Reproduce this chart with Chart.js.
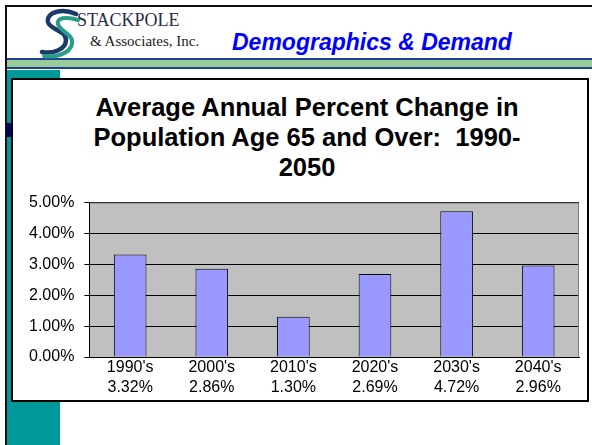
<!DOCTYPE html>
<html>
<head>
<meta charset="utf-8">
<script src="https://cdn.jsdelivr.net/npm/chart.js@4/dist/chart.umd.min.js"></script>
<style>
    body { margin: 0; width: 592px; height: 445px; background: #fff; position: relative; overflow: hidden; font-family: "Liberation Sans", Arial, sans-serif; }
    .abs { position: absolute; }
    #chartBox { left: 11px; top: 78px; width: 574px; height: 320px; border: 2px solid #000; background: #fff; }
    #chartTitle { left: 57px; top: 92px; width: 500px; text-align: center; font-size: 25.5px; font-weight: bold; line-height: 30px; color: #000; white-space: pre; }
    #chartWrap { left: 19px; top: 183px; width: 571px; height: 216px; }
</style>
</head>
<body>
<script>
// dados do gráfico
const categories = ["1990's", "2000's", "2010's", "2020's", "2030's", "2040's"];
const changeValues = [3.32, 2.86, 1.30, 2.69, 4.72, 2.96];
const yTicks = [0, 1, 2, 3, 4, 5];
const chartTitle = ['Average Annual Percent Change in', 'Population Age 65 and Over:  1990-', '2050'];
</script>

<!-- moldura do slide -->
<div class="abs" style="left:5px;top:5px;width:587px;height:2px;background:#111;"></div>
<div class="abs" style="left:5px;top:5px;width:2px;height:440px;background:#111;"></div>
<div class="abs" style="left:7px;top:58px;width:585px;height:2px;background:#1f3f99;"></div>
<div class="abs" style="left:7px;top:60px;width:585px;height:7px;background:#99cc99;"></div>
<div class="abs" style="left:7px;top:67px;width:585px;height:2px;background:#1f3f99;"></div>
<div class="abs" style="left:7px;top:70px;width:53px;height:375px;background:#009999;"></div>
<div class="abs" style="left:7px;top:123px;width:4px;height:14px;background:#000066;"></div>

<!-- logotipo -->
<svg class="abs" style="left:36px;top:8px;" width="46" height="52" viewBox="0 0 46 52">
    <path d="M40 6 C26 0 10 4 12 14 C14 22 30 22 30 32 C30 42 16 46 6 44" fill="none" stroke="#1a3a6a" stroke-width="4.5" stroke-linecap="round"/>
    <path d="M42 12 C30 8 20 10 22 16 C24 24 38 26 36 36 C34 46 18 50 8 48" fill="none" stroke="#2a9a8a" stroke-width="4" stroke-linecap="round"/>
</svg>
<div class="abs" style="left:77px;top:10px;font-family:'Liberation Serif',serif;font-size:18px;color:#2b2b48;line-height:20px;">STACKPOLE</div>
<div class="abs" style="left:90px;top:33px;font-family:'Liberation Serif',serif;font-size:15px;color:#222;line-height:17px;">&amp; Associates, Inc.</div>
<div class="abs" style="left:232px;top:29px;font-size:23px;font-weight:bold;font-style:italic;color:#0000ff;line-height:26px;">Demographics &amp; Demand</div>

<div id="chartBox" class="abs"></div>
<div id="chartTitle" class="abs"></div>
<div id="chartWrap" class="abs"><canvas id="popChart"></canvas></div>

<script>
document.getElementById('chartTitle').textContent = chartTitle.join('\n');

// fundo cinza e borda da área de plotagem
const plotArea = {
    id: 'plotArea',
    beforeDraw(chart) {
        const { ctx, chartArea: a } = chart;
        ctx.save();
        ctx.fillStyle = '#c0c0c0';
        ctx.fillRect(a.left, a.top, a.right - a.left, a.bottom - a.top);
        ctx.restore();
    },
    afterDraw(chart) {
        const { ctx, chartArea: a } = chart;
        ctx.save();
        ctx.strokeStyle = '#808080';
        ctx.lineWidth = 1;
        ctx.beginPath();
        ctx.moveTo(a.left + 1, a.top + 0.5);
        ctx.lineTo(a.right - 0.5, a.top + 0.5);
        ctx.lineTo(a.right - 0.5, a.bottom);
        ctx.stroke();
        ctx.restore();
    }
};

const font = { family: "'Liberation Sans', Arial, sans-serif", size: 16 };

new Chart(document.getElementById('popChart'), {
    type: 'bar',
    data: {
        labels: categories.map((c, i) => [c, changeValues[i].toFixed(2) + '%']),
        datasets: [{
            data: changeValues,
            backgroundColor: '#9999ff',
            borderColor: '#000',
            borderWidth: 1,
            categoryPercentage: 0.8,
            barPercentage: 0.5
        }]
    },
    options: {
        responsive: true,
        maintainAspectRatio: false,
        animation: false,
        layout: { padding: { left: 0, right: 11, top: 0, bottom: 0 } },
        plugins: {
            legend: { display: false },
            tooltip: { enabled: false },
            title: { display: false }
        },
        scales: {
            x: {
                grid: { display: false, drawTicks: false },
                border: { display: true, color: '#000', width: 1 },
                ticks: { color: '#000', font: { ...font, lineHeight: 1.25 }, padding: 1, maxRotation: 0, autoSkip: false }
            },
            y: {
                min: 0,
                max: 5,
                afterBuildTicks: (axis) => { axis.ticks = yTicks.map(v => ({ value: v })); },
                grid: { color: '#000', lineWidth: 1, tickLength: 5 },
                border: { display: true, color: '#000', width: 1 },
                ticks: {
                    color: '#000',
                    font: font,
                    padding: 10,
                    callback: (v) => Number(v).toFixed(2) + '%'
                }
            }
        }
    },
    plugins: [plotArea]
});
</script>
</body>
</html>
